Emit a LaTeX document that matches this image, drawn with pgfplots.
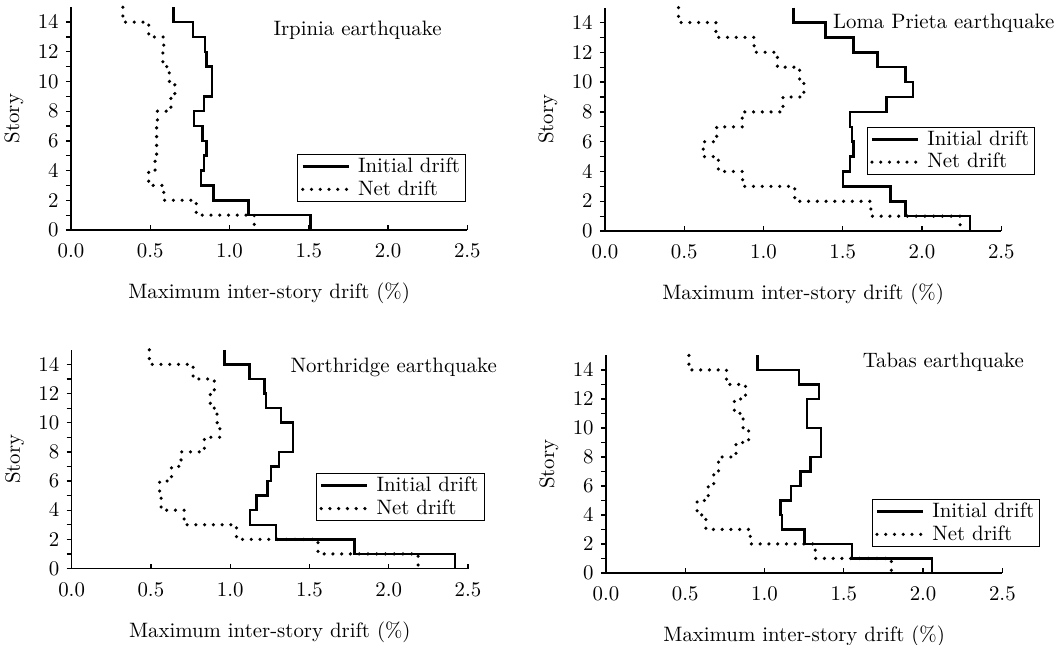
\documentclass[border=0pt]{standalone}
\usepackage{pgfplots}
\pgfplotsset{compat=1.18}
\usepackage{pgfplotstable}

% Maximum inter-story drift (%) of each story; a row gives the top of the story
% and the drift over that story; the row at 0 closes the step line at the base.
\pgfplotstableread{
story init  net
15    0.645 0.327
14    0.770 0.490
13    0.845 0.585
12    0.855 0.580
11    0.890 0.620
10    0.890 0.655
9     0.840 0.630
8     0.775 0.545
7     0.830 0.540
6     0.855 0.540
5     0.840 0.530
4     0.820 0.490
3     0.900 0.585
2     1.120 0.790
1     1.510 1.156
0     1.510 1.156
}\irpinia

\pgfplotstableread{
story init  net
15    1.190 0.464
14    1.390 0.700
13    1.567 0.941
12    1.719 1.088
11    1.896 1.228
10    1.942 1.255
9     1.777 1.123
8     1.546 0.866
7     1.558 0.705
6     1.569 0.620
5     1.546 0.715
4     1.500 0.868
3     1.802 1.197
2     1.896 1.677
1     2.304 2.240
0     2.304 2.240
}\lomaprieta

\pgfplotstableread{
story init  net
15    0.964 0.490
14    1.121 0.766
13    1.215 0.900
12    1.226 0.875
11    1.320 0.917
10    1.397 0.935
9     1.397 0.837
8     1.307 0.690
7     1.257 0.630
6     1.236 0.555
5     1.167 0.565
4     1.125 0.710
3     1.289 1.040
2     1.785 1.554
1     2.418 2.186
0     2.418 2.186
}\northridge

\pgfplotstableread{
story init  net
15    0.954 0.523
14    1.216 0.760
13    1.342 0.880
12    1.269 0.810
11    1.269 0.865
10    1.357 0.900
9     1.357 0.820
8     1.290 0.710
7     1.227 0.680
6     1.168 0.645
5     1.100 0.575
4     1.110 0.630
3     1.252 0.910
2     1.553 1.320
1     2.057 1.800
0     2.057 1.800
}\tabas

\tikzset{
  initial/.style={black, line width=1.2pt, const plot mark right},
  net/.style={black, line width=1.7pt, line cap=round,
    dash pattern=on 0pt off 4.2pt, const plot mark right},
  eqname/.style={anchor=west, inner sep=0pt},
}

\pgfplotsset{
  driftaxis/.style={
    x=76.1pt,
    xmin=0, xmax=2.5, ymin=0, ymax=15,
    clip=false,
    axis x line*=bottom, axis y line*=left,
    xtick={0,0.5,1,1.5,2,2.5},
    ytick={0,2,4,6,8,10,12,14},
    minor ytick={1,3,5,7,9,11,13},
    xtick align=inside, ytick align=outside,
    major tick length=2.4pt, minor tick length=2.4pt,
    xticklabel style={yshift=-3.2pt,
      /pgf/number format/.cd, fixed, fixed zerofill, precision=1},
    xlabel={Maximum inter-story drift (\%)},
    ylabel={Story},
    xlabel style={yshift=-5.5pt},
    anchor=origin,
    axis line style={line width=0.6pt},
    tick style={line width=0.6pt, black},
    legend cell align=left,
    legend image code/.code={\draw[##1] (0pt,0pt) -- (22pt,0pt);
      \path (24.5pt,0pt);},
    legend style={anchor=north west, draw=black, line width=0.5pt,
      inner xsep=1.5pt, inner ysep=0.3pt, row sep=0pt,
      nodes={inner sep=1.2pt}},
  },
}

\begin{document}
\begin{tikzpicture}
\useasboundingbox (-34.08pt,-198.72pt) rectangle (475.68pt,110.4pt);

\begin{axis}[driftaxis, y=7.13pt, at={(0pt,0pt)},
    legend style={at={(axis description cs:0.571,0.341)}}]
  \addplot[initial] table[x=init, y=story]{\irpinia};
  \addlegendentry{Initial drift}
  \addplot[net] table[x=net, y=story]{\irpinia};
  \addlegendentry{Net drift}
  \node[eqname] at (axis cs:1.275,13.45) {Irpinia earthquake};
\end{axis}

\begin{axis}[driftaxis, y=7.15pt, at={(256.3pt,-0.5pt)},
    legend style={at={(axis description cs:0.66,0.467)}}]
  \addplot[initial] table[x=init, y=story]{\lomaprieta};
  \addlegendentry{Initial drift}
  \addplot[net] table[x=net, y=story]{\lomaprieta};
  \addlegendentry{Net drift}
  \node[eqname] at (axis cs:1.437,13.95) {Loma Prieta earthquake};
\end{axis}

\begin{axis}[driftaxis, y=7.0pt, at={(0.3pt,-162.5pt)},
    legend style={at={(axis description cs:0.616,0.436)}}]
  \addplot[initial] table[x=init, y=story]{\northridge};
  \addlegendentry{Initial drift}
  \addplot[net] table[x=net, y=story]{\northridge};
  \addlegendentry{Net drift}
  \node[eqname] at (axis cs:1.378,13.8) {Northridge earthquake};
\end{axis}

\begin{axis}[driftaxis, y=6.96pt, at={(256.8pt,-164.6pt)},
    legend style={at={(axis description cs:0.67,0.34)}}]
  \addplot[initial] table[x=init, y=story]{\tabas};
  \addlegendentry{Initial drift}
  \addplot[net] table[x=net, y=story]{\tabas};
  \addlegendentry{Net drift}
  \node[eqname] at (axis cs:1.617,14.5) {Tabas earthquake};
\end{axis}
\end{tikzpicture}
\end{document}
